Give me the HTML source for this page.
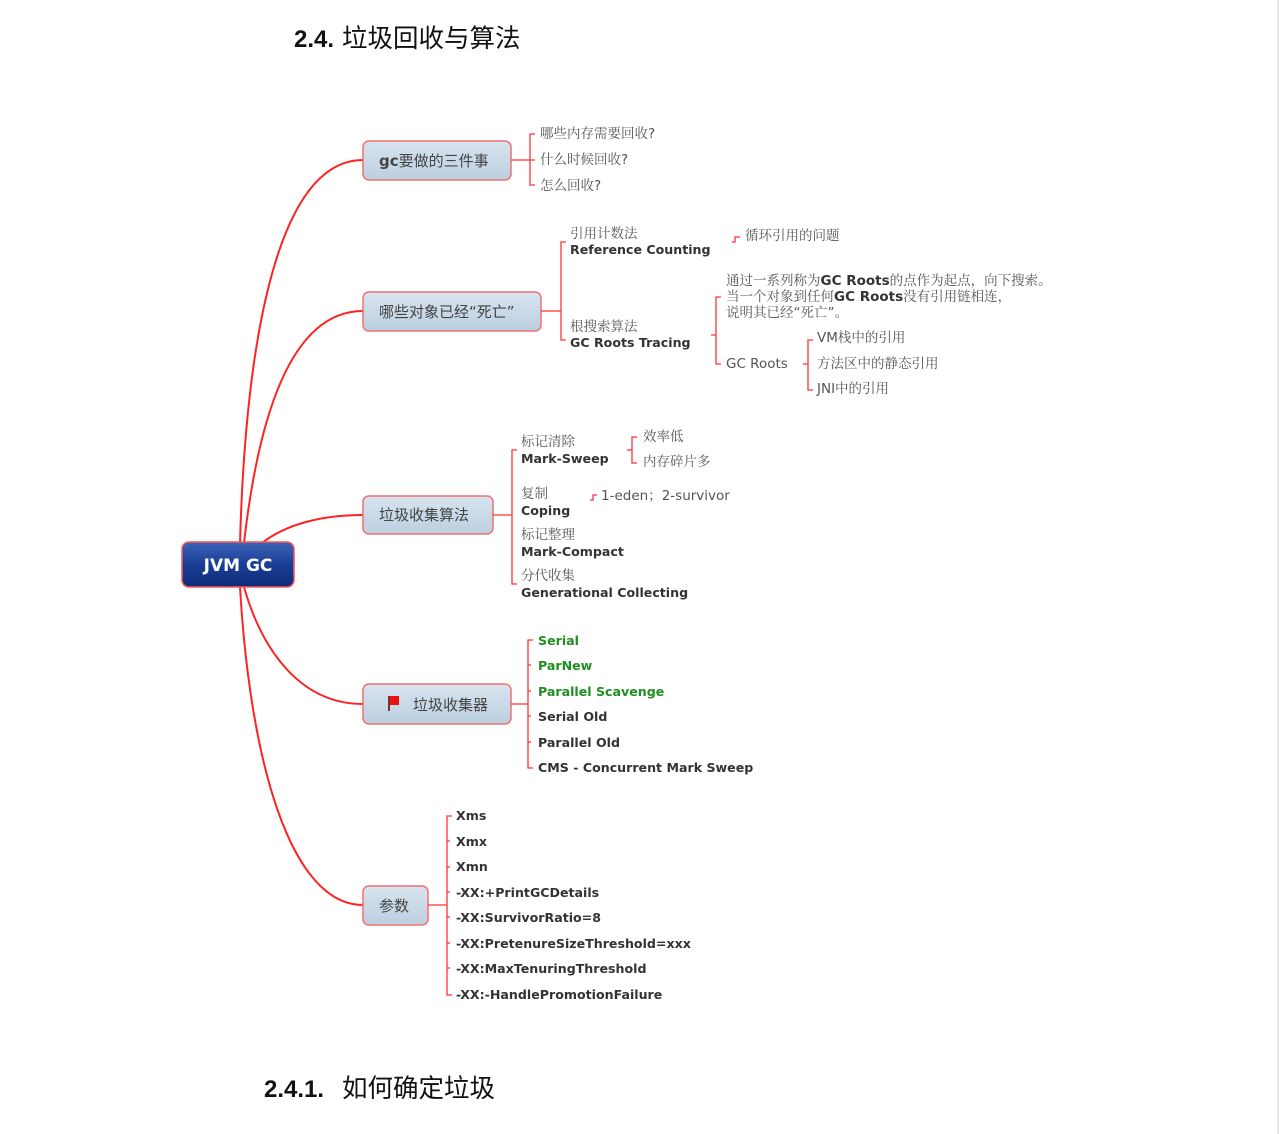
<!DOCTYPE html>
<html><head><meta charset="utf-8"><style>
body{margin:0;background:#fff;width:1280px;height:1134px;overflow:hidden}
svg{position:absolute;left:0;top:0}
.t{font-family:"Liberation Sans","Noto Sans CJK SC",sans-serif;fill:#111}
.n{font-family:"DejaVu Sans","Noto Sans CJK SC",sans-serif;font-size:15px;fill:#444}
.c{font-family:"DejaVu Sans","Noto Serif CJK SC",serif;font-size:13.5px;fill:#555}
.b{font-family:"DejaVu Sans","Noto Sans CJK SC",sans-serif;font-size:12.6px;font-weight:bold;fill:#333}
.g{fill:#1f8f1f}
.r{stroke:#f33;fill:none;stroke-width:1.3}
</style></head><body>
<svg width="1280" height="1134" viewBox="0 0 1280 1134">
<defs>
<linearGradient id="ng" x1="0" y1="0" x2="0" y2="1"><stop offset="0" stop-color="#d8e4ef"/><stop offset="1" stop-color="#bccfe0"/></linearGradient>
<linearGradient id="rg" x1="0" y1="0" x2="0" y2="1"><stop offset="0" stop-color="#3a64b8"/><stop offset="0.5" stop-color="#1a3f96"/><stop offset="1" stop-color="#0e2a78"/></linearGradient>
</defs>
<line x1="1278" y1="0" x2="1278" y2="1134" stroke="#ccc"/>
<text x="294" y="47" class="t" font-size="24"><tspan font-weight="bold">2.4.</tspan><tspan x="342" font-size="25.5">垃圾回收与算法</tspan></text>
<text x="264" y="1097" class="t" font-size="24"><tspan font-weight="bold">2.4.1.</tspan><tspan x="342" font-size="25.5">如何确定垃圾</tspan></text>

<g stroke="#f22" fill="none" stroke-width="2">
<path d="M240,543 C246,330 280,160 363,160"/>
<path d="M244,543 C258,420 290,311 363,311"/>
<path d="M262,543 C285,525 320,515 363,515"/>
<path d="M244,587 C262,650 300,704 363,704"/>
<path d="M240,587 C250,760 290,905 363,905"/>
</g>

<rect x="182" y="542" width="112" height="45" rx="7" fill="url(#rg)" stroke="#f55" stroke-width="1.5"/>
<text x="238" y="571" text-anchor="middle" font-family="DejaVu Sans,sans-serif" font-weight="bold" font-size="17" fill="#fff">JVM GC</text>

<g stroke="#f07070" stroke-width="1.5" fill="url(#ng)">
<rect x="363" y="141" width="148" height="39" rx="6"/>
<rect x="363" y="292" width="178" height="39" rx="6"/>
<rect x="363" y="496" width="130" height="38" rx="6"/>
<rect x="363" y="684" width="148" height="40" rx="6"/>
<rect x="363" y="886" width="65" height="39" rx="6"/>
</g>
<text x="379" y="166" class="n"><tspan font-weight="bold">gc</tspan>要做的三件事</text>
<text x="379" y="317" class="n">哪些对象已经“死亡”</text>
<text x="379" y="520" class="n">垃圾收集算法</text>
<rect x="388" y="696" width="2" height="15" fill="#733"/><path d="M390,696 h9 v9 h-9z" fill="#e11"/>
<text x="413" y="710" class="n">垃圾收集器</text>
<text x="379" y="911" class="n">参数</text>

<path class="r" d="M511,160 H530 M535,134 H530 V185 H535 M530,160 H535"/>
<text x="540" y="138" class="c">哪些内存需要回收?</text>
<text x="540" y="164" class="c">什么时候回收?</text>
<text x="540" y="190" class="c">怎么回收?</text>

<path class="r" d="M541,311 H561 M566,242 H561 V340 H566"/>
<text x="570" y="238" class="c">引用计数法</text>
<text x="570" y="254" class="b">Reference Counting</text>
<path class="r" d="M732,242 H735 V237 H740"/>
<text x="745" y="240" class="c">循环引用的问题</text>
<text x="570" y="331" class="c">根搜索算法</text>
<text x="570" y="347" class="b">GC Roots Tracing</text>
<path class="r" d="M711,335 H716 M721,297 H716 V364 H721"/>
<text x="726" y="285" class="c">通过一系列称为<tspan font-weight="bold" fill="#333">GC Roots</tspan>的点作为起点，向下搜索。</text>
<text x="726" y="301" class="c">当一个对象到任何<tspan font-weight="bold" fill="#333">GC Roots</tspan>没有引用链相连，</text>
<text x="726" y="317" class="c">说明其已经“死亡”。</text>
<text x="726" y="368" class="c">GC Roots</text>
<path class="r" d="M803,364 H808 M813,340 H808 V390 H813"/>
<text x="817" y="342" class="c">VM栈中的引用</text>
<text x="817" y="368" class="c">方法区中的静态引用</text>
<text x="817" y="393" class="c">JNI中的引用</text>

<path class="r" d="M493,515 H512 M517,450 H512 V584 H517"/>
<text x="521" y="446" class="c">标记清除</text>
<text x="521" y="463" class="b">Mark-Sweep</text>
<path class="r" d="M627,450 H632 M637,437 H632 V463 H637"/>
<text x="643" y="441" class="c">效率低</text>
<text x="643" y="466" class="c">内存碎片多</text>
<text x="521" y="498" class="c">复制</text>
<text x="521" y="515" class="b">Coping</text>
<path class="r" d="M590,500 H593 V495 H597"/>
<text x="601" y="500" class="c">1-eden；2-survivor</text>
<text x="521" y="539" class="c">标记整理</text>
<text x="521" y="556" class="b">Mark-Compact</text>
<text x="521" y="580" class="c">分代收集</text>
<text x="521" y="597" class="b">Generational Collecting</text>

<path class="r" d="M511,704 H528 M533,640 H528 V768 H533 M528,665 H531 M528,691 H531 M528,716 H531 M528,742 H531"/>
<text x="538" y="645" class="b g">Serial</text>
<text x="538" y="670" class="b g">ParNew</text>
<text x="538" y="696" class="b g">Parallel Scavenge</text>
<text x="538" y="721" class="b">Serial Old</text>
<text x="538" y="747" class="b">Parallel Old</text>
<text x="538" y="772" class="b">CMS - Concurrent Mark Sweep</text>

<path class="r" d="M428,905 H447 M452,816 H447 V995 H452 M447,841 H450 M447,867 H450 M447,892 H450 M447,917 H450 M447,943 H450 M447,968 H450"/>
<text x="456" y="820" class="b">Xms</text>
<text x="456" y="846" class="b">Xmx</text>
<text x="456" y="871" class="b">Xmn</text>
<text x="456" y="897" class="b">-XX:+PrintGCDetails</text>
<text x="456" y="922" class="b">-XX:SurvivorRatio=8</text>
<text x="456" y="948" class="b">-XX:PretenureSizeThreshold=xxx</text>
<text x="456" y="973" class="b">-XX:MaxTenuringThreshold</text>
<text x="456" y="999" class="b">-XX:-HandlePromotionFailure</text>
</svg>
</body></html>
